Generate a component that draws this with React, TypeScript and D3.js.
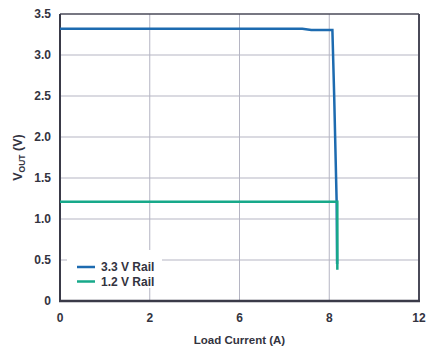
import React from "react";
import * as d3 from "d3";

const xTickLabels = [0, 2, 6, 8, 12];
const yTicks = [0, 0.5, 1.0, 1.5, 2.0, 2.5, 3.0, 3.5];

const rail33X = [0, 7.4, 7.6, 8.14, 8.22, 8.33, 8.35];
const rail33Y = [3.32, 3.32, 3.305, 3.305, 2.5, 1.2, 0.45];
const rail12X = [0, 8.36, 8.36];
const rail12Y = [1.21, 1.21, 0.38];

const seriesNames = ["3.3 V Rail", "1.2 V Rail"];
const seriesColors = ["#1d6bb0", "#17a98a"];

export default function App() {
  const W = 435, H = 354;
  const L = 60, R = 419, T = 14, B = 301;
  const x = d3
    .scaleLinear()
    .domain(xTickLabels)
    .range(xTickLabels.map((_, i) => L + ((R - L) * i) / (xTickLabels.length - 1)));
  const y = d3.scaleLinear().domain([0, 3.5]).range([B, T]);
  const line = d3
    .line<[number, number]>()
    .x((d) => x(d[0]))
    .y((d) => y(d[1]));
  const d33 = rail33X.map((v, i) => [v, rail33Y[i]] as [number, number]);
  const d12 = rail12X.map((v, i) => [v, rail12Y[i]] as [number, number]);
  const font = "'Liberation Sans', Arial, sans-serif";
  const textColor = "#333340";
  return (
    <svg
      width={W}
      height={H}
      style={{ position: "absolute", left: 0, top: 0, background: "#fff" }}
      fontFamily={font}
    >
      {/* gridlines */}
      {yTicks.slice(1, -1).map((t) => (
        <line key={"gy" + t} x1={L} x2={R} y1={y(t)} y2={y(t)} stroke="#b5b5c3" strokeWidth={1} />
      ))}
      {xTickLabels.slice(1, -1).map((t) => (
        <line key={"gx" + t} x1={x(t)} x2={x(t)} y1={T} y2={B} stroke="#b5b5c3" strokeWidth={1} />
      ))}
      {/* legend background */}
      <rect x={67} y={250} width={95} height={38} fill="#fff" />
      {/* frame */}
      <line x1={L} x2={R} y1={T} y2={T} stroke="#4a4a58" strokeWidth={1.5} />
      <line x1={R} x2={R} y1={T} y2={B} stroke="#4a4a58" strokeWidth={2} />
      <line x1={L} x2={L} y1={T} y2={B + 1} stroke="#3a3a48" strokeWidth={2} />
      <line x1={L - 1} x2={R + 1} y1={B} y2={B} stroke="#3a3a48" strokeWidth={2.5} />
      {/* series */}
      <path d={line(d33) || ""} fill="none" stroke={seriesColors[0]} strokeWidth={2.5} />
      <path d={line(d12) || ""} fill="none" stroke={seriesColors[1]} strokeWidth={2.5} />
      {/* y tick labels */}
      {yTicks.map((t) => (
        <text
          key={"ty" + t}
          x={51}
          y={y(t)}
          dy="0.35em"
          textAnchor="end"
          fontSize={12}
          fontWeight="bold"
          fill={textColor}
        >
          {t === 0 ? "0" : t.toFixed(1)}
        </text>
      ))}
      {/* x tick labels */}
      {xTickLabels.map((t) => (
        <text
          key={"tx" + t}
          x={x(t)}
          y={318}
          dy="0.35em"
          textAnchor="middle"
          fontSize={12}
          fontWeight="bold"
          fill={textColor}
        >
          {t}
        </text>
      ))}
      <text x={(L + R) / 2} y={340} dy="0.35em" textAnchor="middle" fontSize={11.5} fontWeight="bold" fill={textColor}>
        Load Current (A)
      </text>
      <text
        transform={`translate(18, ${(T + B) / 2}) rotate(-90)`}
        textAnchor="middle"
        dy="0.35em"
        fontSize={12.5}
        fontWeight="bold"
        fill={textColor}
      >
        V
        <tspan fontSize={8.5} dy="3">OUT</tspan>
        <tspan dy="-3"> (V)</tspan>
      </text>
      {/* legend */}
      {seriesNames.map((n, i) => (
        <g key={n} transform={`translate(0, ${267 + i * 14.5})`}>
          <line x1={77} x2={95} y1={0} y2={0} stroke={seriesColors[i]} strokeWidth={2.5} />
          <text x={101} y={0} dy="0.35em" fontSize={12} fontWeight="bold" fill={textColor}>
            {n}
          </text>
        </g>
      ))}
    </svg>
  );
}
